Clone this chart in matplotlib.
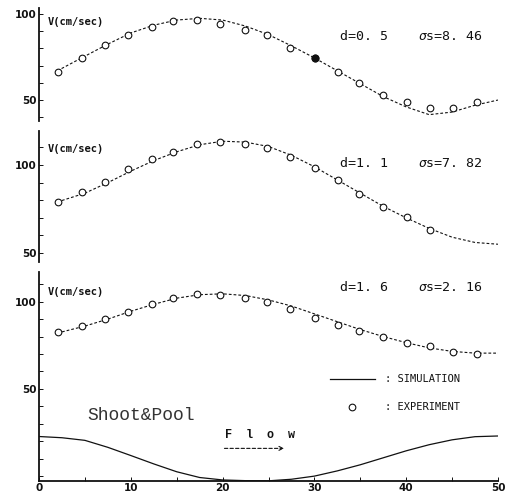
import matplotlib
matplotlib.use("Agg")
import matplotlib.pyplot as plt
from matplotlib.ticker import MultipleLocator

# ── data ─────────────────────────────────────────────────────────────────────────
exp_x = [2.1, 4.7, 7.2, 9.7, 12.3, 14.6, 17.2, 19.7, 22.4, 24.8,
         27.3, 30.1, 32.6, 34.9, 37.5, 40.1, 42.6, 45.1, 47.7]
exp_d05 = [66.3, 74.4, 82.0, 87.8, 92.4, 95.9, 96.5, 94.2, 90.7, 87.8,
           80.2, 74.4, 66.3, 59.9, 52.9, 48.8, 45.3, 45.3, 48.8]
exp_d11 = [79.0, 84.7, 90.3, 97.7, 103.4, 107.4, 111.9, 113.1, 111.9, 109.7,
           104.5, 98.3, 91.5, 83.5, 76.1, 70.5, 63.1]
exp_d16 = [82.4, 85.8, 89.8, 94.3, 98.9, 102.3, 104.5, 104.0, 102.3, 100.0,
           96.0, 90.9, 86.4, 83.0, 79.5, 76.1, 74.4, 71.0, 69.9]

sim_x = [2, 5, 7.5, 10, 12.5, 15, 17.5, 20, 22.5, 25,
         27.5, 30, 32.5, 35, 37.5, 40, 42.5, 45, 47.5, 50]
sim_d05 = [67, 75.5, 82.5, 89, 93.5, 96.5, 97.5, 96.5, 93, 88,
           81.5, 74.5, 67, 59.5, 52, 46, 41.5, 43, 47, 50]
sim_d11 = [79, 84, 90, 96.5, 102.5, 107.5, 111.5, 113.5, 113, 110.5,
           105.5, 99, 91.5, 84, 76.5, 70, 64, 59, 56, 55]
sim_d16 = [82, 86, 90, 94.5, 98.5, 102, 104, 104.5, 103.5, 101,
           97.5, 93, 88.5, 84, 80, 76.5, 73.5, 71.5, 70.5, 70.5]

bed_x = [0, 2.5, 5, 7.5, 10, 12.5, 15, 17.5, 20, 22.5, 25,
         27.5, 30, 32.5, 35, 37.5, 40, 42.5, 45, 47.5, 50]
bed_z = [22.7, 22.0, 20.5, 16.5, 11.8, 7.0, 2.5, -0.8, -2.2, -2.6, -2.7,
         -1.8, 0.0, 3.0, 6.5, 10.5, 14.5, 18.0, 20.8, 22.6, 23.0]

depths = ["d=0. 5", "d=1. 1", "d=1. 6"]
sigmas = ["s=8. 46", "s=7. 82", "s=2. 16"]
x_ticks = [0, 10, 20, 30, 40, 50]

INK = "#111111"
MONO = ["DejaVu Sans Mono"]

fig = plt.figure(figsize=(5.11, 4.97), dpi=100)
fig.patch.set_facecolor("white")

L, W = 39 / 511, 459 / 511
panels = [
    # (bottom, height, ylim, yticks, exp, sim, label y, text y)
    (0.7565, 0.2274, (37.8, 103.5), [50, 100], exp_d05, sim_d05, 95.3, 87.2),
    (0.4728, 0.2636, (44.9, 119.3), [50, 100], exp_d11, sim_d11, 109.1, 101.1),
    (0.0322, 0.4205, (-2.8, 117.0), [50, 100], exp_d16, sim_d16, 105.7, 108.0),
]

axes = []
for i, (b, h, ylim, yt, ex, sm, ly, ty) in enumerate(panels):
    ax = fig.add_axes([L, b, W, h])
    ax.set_facecolor("none")
    for s in ("top", "right", "bottom"):
        ax.spines[s].set_visible(False)
    ax.spines["left"].set_color(INK)
    ax.spines["left"].set_linewidth(1.3)
    ax.set_xlim(0, 50)
    ax.set_ylim(*ylim)
    ax.set_yticks(yt)
    ax.yaxis.set_minor_locator(MultipleLocator(10))
    ax.tick_params(axis="y", which="both", direction="in", length=3, width=0.7,
                   colors=INK, labelsize=7.5, pad=2)
    for lab in ax.get_yticklabels():
        lab.set_fontweight("bold")
    ax.set_xticks([])

    ax.plot(sim_x, sm, color=INK, lw=0.8, ls=(0, (2.5, 1.8)), zorder=2)
    ax.plot(exp_x[:len(ex)], ex, ls="none", marker="o", ms=4.8, mfc="white",
            mec=INK, mew=0.8, zorder=3)

    ax.text(1.0, ly, "V(cm/sec)", family=MONO, fontsize=7.5, fontweight="bold",
            color=INK, ha="left", va="center")
    ax.text(32.8, ty, depths[i], family=MONO, fontsize=9.5, color=INK,
            ha="left", va="center")
    ax.text(41.3, ty, "σ", family=MONO, fontsize=9.5, color=INK,
            ha="left", va="center", style="italic")
    ax.text(42.2, ty, sigmas[i], family=MONO, fontsize=9.5, color=INK,
            ha="left", va="center")
    axes.append(ax)

# filled marker visible in the top panel
axes[0].plot(exp_x[11], exp_d05[11], marker="o", ms=4.8, color=INK, ls="none",
             zorder=4)

# bottom panel: bed profile, legend and labels
ax = axes[2]
ax.spines["bottom"].set_visible(True)
ax.spines["bottom"].set_color(INK)
ax.spines["bottom"].set_linewidth(1.3)
ax.set_xticks(x_ticks)
ax.xaxis.set_minor_locator(MultipleLocator(5))
ax.tick_params(axis="x", which="both", direction="in", length=3, width=0.7,
               colors=INK, labelsize=7.5, pad=1.5)
for lab in ax.get_xticklabels():
    lab.set_fontweight("bold")

ax.plot(bed_x, bed_z, color=INK, lw=0.9, zorder=2)

ax.plot([31.7, 36.6], [55.7, 55.7], color=INK, lw=0.9)
ax.text(37.7, 55.7, ": SIMULATION", family=MONO, fontsize=7.5, color=INK,
        ha="left", va="center")
ax.plot([34.1], [39.8], ls="none", marker="o", ms=4.8, mfc="white", mec=INK,
        mew=0.8)
ax.text(37.7, 39.8, ": EXPERIMENT", family=MONO, fontsize=7.5, color=INK,
        ha="left", va="center")

ax.text(5.3, 34.7, "Shoot&Pool", family=["Liberation Mono"], fontsize=13,
        color="#333333", ha="left", va="center")
ax.text(20.3, 23.3, "F  l  o  w", family=["Liberation Mono"], fontsize=8.5,
        fontweight="bold", color=INK, ha="left", va="center")
ax.annotate("", xy=(27.0, 15.9), xytext=(19.9, 15.9),
            arrowprops=dict(arrowstyle="->", color=INK, lw=0.8,
                            linestyle=(0, (3, 2)), mutation_scale=7))

fig.savefig("out.png", dpi=100, facecolor="white")
